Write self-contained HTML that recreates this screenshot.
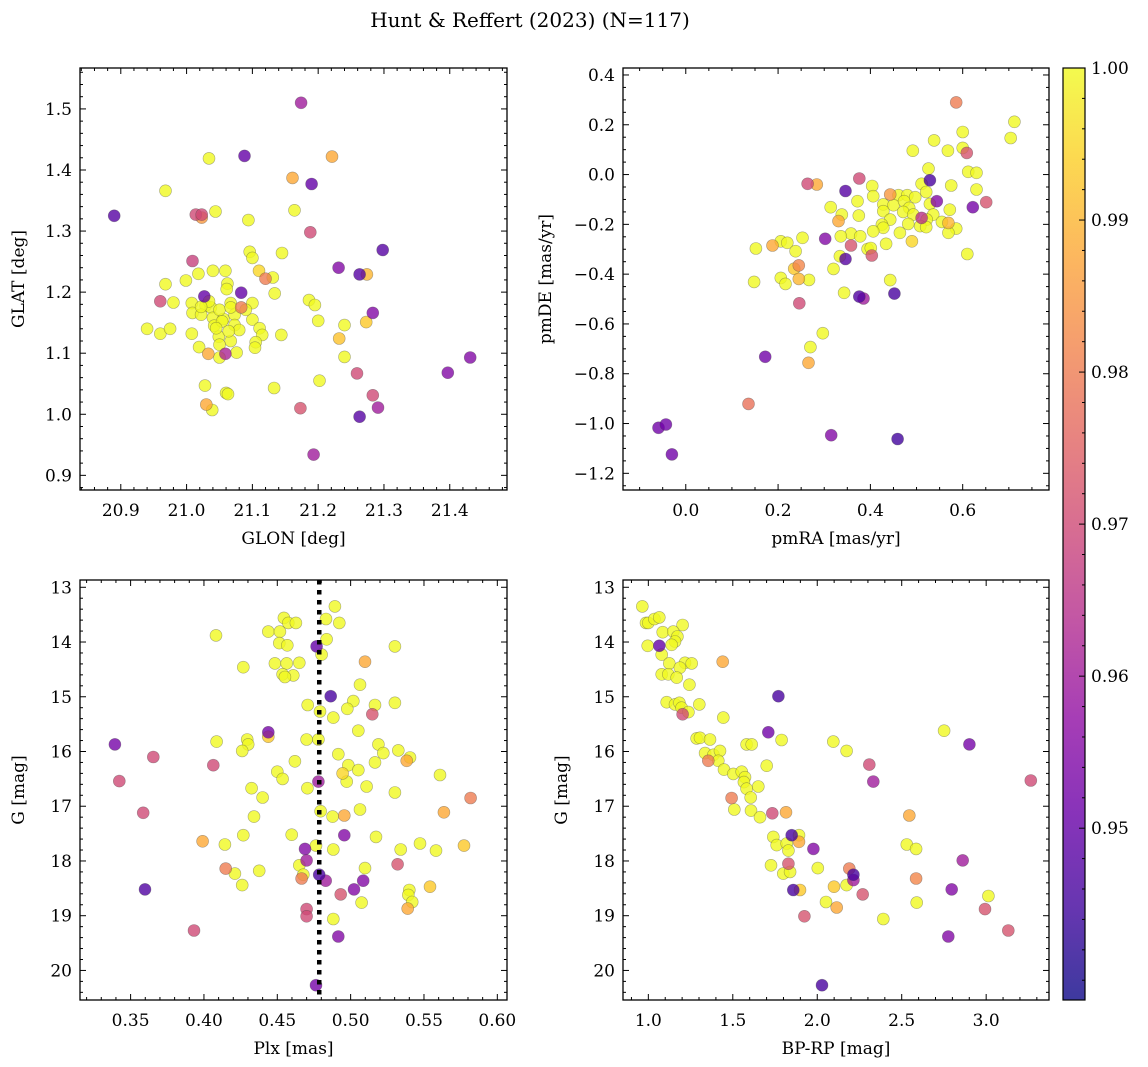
<!DOCTYPE html>
<html><head><meta charset="utf-8"><style>
html,body{margin:0;padding:0;background:#fff;}
svg{display:block;font-family:"DejaVu Serif","Liberation Serif",serif;}
</style></head><body>
<svg id="chart" width="1148" height="1067" viewBox="0 0 1148 1067" xmlns="http://www.w3.org/2000/svg">
<text x="530" y="27" font-size="20" text-anchor="middle">Hunt &amp; Reffert (2023) (N=117)</text>
</svg>
<script>
// ---------- Panel A: GLON vs GLAT ----------
const aGlon=[21.174,21.034,21.088,21.221,21.161,21.190,20.968,20.890,21.014,21.023,21.023,21.044,21.094,21.164,21.188,21.298,21.096,21.100,21.145,21.009,21.231,21.263,21.274,21.110,21.120,21.131,20.968,20.999,21.018,21.040,21.059,21.062,21.061,21.134,21.027,21.083,20.960,20.980,21.008,21.029,21.037,21.067,21.083,21.100,21.009,21.022,21.040,21.056,21.073,21.050,21.042,21.073,21.100,21.111,21.115,21.080,21.186,21.195,21.200,21.283,21.273,21.240,21.232,21.240,20.940,20.960,20.975,21.008,21.144,21.049,21.067,21.105,21.104,21.019,21.050,21.033,21.059,21.050,21.076,21.431,21.397,21.259,21.202,21.028,21.060,21.063,21.133,21.283,21.030,21.039,21.173,21.291,21.263,21.193,21.034,21.054,21.067,21.090,21.045,21.064,21.022];
const aGlat=[1.510,1.419,1.423,1.422,1.387,1.377,1.366,1.325,1.327,1.327,1.322,1.332,1.318,1.334,1.298,1.269,1.266,1.256,1.264,1.251,1.240,1.229,1.229,1.235,1.222,1.224,1.213,1.219,1.230,1.235,1.235,1.214,1.205,1.198,1.193,1.199,1.185,1.183,1.182,1.178,1.175,1.182,1.175,1.182,1.166,1.163,1.158,1.156,1.163,1.171,1.145,1.146,1.155,1.141,1.130,1.138,1.187,1.179,1.153,1.166,1.151,1.146,1.124,1.094,1.140,1.132,1.140,1.132,1.130,1.127,1.120,1.118,1.109,1.110,1.114,1.099,1.099,1.093,1.101,1.093,1.068,1.067,1.055,1.047,1.035,1.033,1.043,1.031,1.016,1.007,1.010,1.011,0.996,0.934,1.185,1.152,1.175,1.171,1.141,1.136,1.176];
const aProb=[0.96,1,0.95,0.988,0.988,0.95,1,0.948,0.97,0.97,0.985,1,1,1,0.97,0.948,1,1,1,0.968,0.955,0.948,0.99,0.995,0.98,1,1,1,1,1,1,1,1,1,0.95,0.95,0.97,1,1,1,1,1,0.98,1,1,1,1,1,1,1,1,1,1,1,1,1,1,1,1,0.955,0.993,1,0.992,1,1,1,1,1,1,1,1,1,1,1,1,0.988,0.962,1,1,0.955,0.955,0.97,1,1,1,1,1,0.97,0.988,1,0.972,0.96,0.948,0.96,1,1,1,1,1,1,1];
const aXTicks=[20.9,21.0,21.1,21.2,21.3,21.4];
const aYTicks=[0.9,1.0,1.1,1.2,1.3,1.4,1.5];

// ---------- Panel B: pmRA vs pmDE ----------
const bPmra=[0.586,0.712,0.704,0.600,0.538,0.492,0.568,0.609,0.600,0.526,0.612,0.630,0.529,0.511,0.575,0.630,0.521,0.376,0.264,0.284,0.346,0.404,0.406,0.443,0.461,0.480,0.497,0.372,0.544,0.651,0.622,0.529,0.428,0.450,0.473,0.484,0.572,0.314,0.338,0.375,0.428,0.471,0.493,0.536,0.511,0.522,0.555,0.569,0.586,0.569,0.331,0.443,0.425,0.428,0.482,0.508,0.521,0.406,0.464,0.490,0.434,0.610,0.358,0.378,0.336,0.302,0.253,0.188,0.206,0.220,0.238,0.152,0.358,0.394,0.401,0.403,0.334,0.346,0.245,0.235,0.320,0.245,0.267,0.206,0.216,0.148,0.443,0.343,0.452,0.376,0.385,0.246,0.297,0.270,0.266,0.172,0.136,-0.059,-0.043,-0.030,0.315,0.459];
const bPmde=[0.290,0.212,0.147,0.171,0.137,0.096,0.096,0.087,0.107,0.024,0.011,0.007,-0.023,-0.037,-0.044,-0.060,-0.070,-0.016,-0.037,-0.040,-0.066,-0.046,-0.087,-0.080,-0.083,-0.083,-0.091,-0.107,-0.107,-0.111,-0.131,-0.118,-0.120,-0.123,-0.107,-0.134,-0.141,-0.131,-0.161,-0.165,-0.147,-0.150,-0.161,-0.161,-0.174,-0.181,-0.190,-0.194,-0.217,-0.234,-0.187,-0.181,-0.201,-0.214,-0.198,-0.207,-0.211,-0.228,-0.234,-0.268,-0.278,-0.319,-0.237,-0.248,-0.248,-0.258,-0.254,-0.285,-0.268,-0.274,-0.308,-0.297,-0.285,-0.299,-0.295,-0.325,-0.328,-0.339,-0.365,-0.378,-0.379,-0.419,-0.423,-0.415,-0.439,-0.431,-0.424,-0.475,-0.478,-0.490,-0.498,-0.517,-0.637,-0.693,-0.756,-0.732,-0.921,-1.017,-1.004,-1.124,-1.047,-1.062];
const bProb=[0.98,1,1,1,1,1,1,0.972,1,1,1,1,0.946,1,1,1,1,0.97,0.97,0.988,0.948,1,1,0.985,1,1,1,1,0.955,0.972,0.953,1,1,1,1,1,1,1,1,1,1,1,1,1,0.965,1,1,0.99,1,1,0.988,1,1,1,1,1,1,1,1,0.995,1,1,1,1,1,0.955,1,0.988,1,1,1,1,0.972,1,1,0.972,1,0.948,0.982,0.993,1,0.99,1,1,1,1,1,1,0.946,0.947,0.96,0.97,1,1,0.988,0.952,0.978,0.952,0.952,0.952,0.955,0.945];
const bXTicks=[0.0,0.2,0.4,0.6];
const bYTicks=[-1.2,-1.0,-0.8,-0.6,-0.4,-0.2,0.0,0.2,0.4];

// ---------- Panel C: Plx vs G ----------
const cPlx=[0.4893,0.4832,0.4923,0.4545,0.4575,0.4627,0.4439,0.4518,0.4082,0.4836,0.4514,0.4568,0.4768,0.5302,0.4802,0.5098,0.4484,0.4564,0.4650,0.4268,0.4536,0.4609,0.4552,0.5064,0.4864,0.4707,0.5018,0.4977,0.5166,0.5302,0.5148,0.4791,0.4882,0.5052,0.4439,0.4439,0.4086,0.4295,0.4302,0.4261,0.4700,0.4780,0.3393,0.5189,0.5223,0.5325,0.4916,0.3655,0.5382,0.5405,0.4064,0.4620,0.4984,0.5166,0.5052,0.4500,0.4536,0.4945,0.4973,0.5609,0.3423,0.4780,0.4325,0.4705,0.5109,0.5302,0.4400,0.5818,0.3586,0.5636,0.5064,0.4795,0.4877,0.4957,0.4341,0.3991,0.4143,0.4268,0.4598,0.4957,0.5173,0.4689,0.4764,0.4882,0.5341,0.5473,0.5582,0.5773,0.4700,0.4650,0.4677,0.4666,0.4786,0.4830,0.5086,0.5023,0.5098,0.5320,0.4148,0.4211,0.4377,0.4261,0.3598,0.4932,0.5075,0.5400,0.5393,0.5420,0.5389,0.5541,0.4700,0.4700,0.4882,0.3932,0.4916,0.4764];
const cG=[13.35,13.58,13.65,13.56,13.65,13.65,13.81,13.81,13.88,13.95,14.02,14.06,14.08,14.08,14.23,14.36,14.39,14.39,14.38,14.46,14.59,14.61,14.64,14.78,14.99,15.15,15.08,15.22,15.15,15.11,15.32,15.27,15.38,15.62,15.65,15.73,15.82,15.78,15.87,15.99,15.78,15.78,15.87,15.87,16.03,15.98,16.05,16.10,16.17,16.11,16.25,16.18,16.25,16.20,16.34,16.37,16.50,16.40,16.55,16.43,16.54,16.55,16.67,16.67,16.64,16.75,16.84,16.85,17.12,17.11,17.06,17.09,17.19,17.17,17.19,17.64,17.70,17.53,17.52,17.53,17.56,17.78,17.72,17.79,17.79,17.68,17.81,17.72,17.99,18.08,18.25,18.32,18.25,18.36,18.36,18.52,18.13,18.06,18.14,18.23,18.18,18.44,18.52,18.61,18.76,18.53,18.62,18.75,18.87,18.47,18.88,19.01,19.06,19.27,19.38,20.27];
const cProb=[1,1,1,1,1,1,1,1,1,1,1,1,0.95,1,1,0.988,1,1,1,1,1,1,1,1,0.946,1,1,1,1,1,0.972,1,1,1,0.953,0.993,1,1,1,1,1,1,0.953,1,1,1,1,0.97,0.988,1,0.97,1,1,1,1,1,1,0.995,1,1,0.97,0.96,1,1,1,1,1,0.98,0.97,0.988,1,1,1,0.988,1,0.988,1,1,1,0.955,1,0.955,1,1,1,1,1,0.993,0.96,1,1,0.98,0.946,0.96,0.955,0.955,1,0.972,0.98,1,1,1,0.947,0.972,1,1,1,1,0.988,0.993,0.97,0.97,1,0.97,0.955,0.953];
const cRefPlx=[0.4786];
const cXTicks=[0.35,0.40,0.45,0.50,0.55,0.60];
const gTicks=[13,14,15,16,17,18,19,20];

// ---------- Panel D: BP-RP vs G ----------
const dBprp=[0.964,0.986,1.000,1.036,1.065,1.203,1.085,1.148,1.172,1.158,1.138,0.996,1.065,1.079,1.124,1.217,1.257,1.187,1.079,1.118,1.168,1.440,1.243,1.109,1.158,1.184,1.197,1.203,1.237,1.302,1.444,1.770,1.710,1.789,1.286,1.306,1.365,1.582,1.612,2.095,2.174,2.751,2.901,1.336,1.385,1.424,1.355,1.414,1.448,1.503,1.553,1.572,1.566,1.582,1.606,1.651,1.701,2.308,2.332,3.264,1.493,1.509,1.608,1.661,1.734,1.815,2.545,1.740,1.760,1.819,1.849,1.892,1.892,1.829,1.977,2.530,2.585,2.861,1.726,1.829,1.799,1.839,2.003,2.190,2.214,2.214,1.858,1.898,2.099,2.174,2.269,2.585,2.796,3.013,2.052,2.115,2.589,1.924,2.391,2.993,2.776,3.131,2.028];
const dG=[13.35,13.65,13.65,13.58,13.55,13.69,13.82,13.81,13.90,13.99,14.05,14.07,14.07,14.23,14.39,14.38,14.39,14.47,14.59,14.59,14.65,14.36,14.78,15.10,15.14,15.11,15.20,15.32,15.28,15.14,15.38,14.99,15.65,15.79,15.76,15.75,15.78,15.87,15.87,15.82,15.99,15.62,15.87,16.03,16.06,15.99,16.17,16.17,16.33,16.41,16.37,16.47,16.56,16.68,16.84,16.64,16.26,16.24,16.55,16.53,16.85,17.06,17.08,17.20,17.13,17.11,17.17,17.56,17.71,17.68,17.53,17.53,17.65,17.81,17.78,17.70,17.78,17.99,18.08,18.05,18.23,18.20,18.13,18.14,18.25,18.35,18.53,18.53,18.47,18.44,18.61,18.32,18.52,18.64,18.75,18.85,18.76,19.01,19.06,18.88,19.38,19.27,20.27];
const dProb=[1,1,1,1,1,1,1,1,1,1,1,1,0.95,1,1,1,1,1,1,1,1,0.988,1,1,1,1,1,0.97,1,1,1,0.946,0.952,1,1,1,1,1,1,1,1,1,0.953,1,1,1,0.98,1,1,1,1,1,1,1,1,1,1,0.97,0.96,0.97,0.98,1,1,1,0.97,0.988,0.988,1,1,1,0.946,1,0.988,1,0.955,1,1,0.96,1,0.972,1,1,1,0.98,0.946,0.96,0.946,0.993,0.993,1,0.972,0.982,0.955,1,1,0.988,1,0.972,1,0.972,0.955,0.972,0.946];
const dXTicks=[1.0,1.5,2.0,2.5,3.0];

// ---------- Colorbar ----------
const cbTicks=[0.95,0.96,0.97,0.98,0.99,1.00];
const cbMin=0.9387, cbMax=1.0;

const NS='http://www.w3.org/2000/svg';
const svg=document.getElementById('chart');
function mk(tag,attrs,parent){const e=document.createElementNS(NS,tag);for(const k in attrs)e.setAttribute(k,attrs[k]);(parent||svg).appendChild(e);return e;}

const plasmaStops=['#0d0887','#41049d','#6a00a8','#8f0da4','#b12a90','#cc4778','#e16462','#f2844b','#fca636','#fcce25','#f0f921'];
function hex(h){return [parseInt(h.slice(1,3),16),parseInt(h.slice(3,5),16),parseInt(h.slice(5,7),16)];}
function plasma(t){t=Math.max(0,Math.min(1,t));const s=t*10,i=Math.min(9,Math.floor(s)),f=s-i;const a=hex(plasmaStops[i]),b=hex(plasmaStops[i+1]);return 'rgb('+a.map((v,k)=>Math.round(v+(b[k]-v)*f)).join(',')+')';}
function probColor(p){return plasma((p-cbMin)/(cbMax-cbMin));}
function fmt(v,d){const s=Math.abs(v).toFixed(d);return (v<-1e-9?'\u2212':'')+s;}

function panel(o){
  const {name,L,T,R,B,xmin,xmax,ymin,ymax,invY,xt,yt,xminor,yminor,xd,yd,xlabel,ylabel,xs,ys,ps}=o;
  const sx=v=>L+(v-xmin)/(xmax-xmin)*(R-L);
  const sy=v=>invY? T+(v-ymin)/(ymax-ymin)*(B-T) : B-(v-ymin)/(ymax-ymin)*(B-T);
  const g=mk('g',{});
  
  
  const pts=mk('g',{},g);
  
  
  const idx=ps.map((p,i)=>i).sort((a,b)=>ps[b]-ps[a]);
  idx.forEach(i=>{
    const c=mk('circle',{cx:sx(xs[i]).toFixed(1),cy:sy(ys[i]).toFixed(1),r:6,fill:probColor(ps[i]),'fill-opacity':0.8,stroke:'#444','stroke-opacity':0.45,'stroke-width':0.6},pts);
    
    
  });
  if(o.extra) o.extra(g,sx,sy);
  const fr=mk('rect',{x:L,y:T,width:R-L,height:B-T,fill:'none',stroke:'#000','stroke-width':1.3},g);
  
  
  const tk=mk('g',{stroke:'#000','stroke-width':1},g);
  const a0=Math.min(xmin,xmax);
  for(let v=Math.ceil(xmin/xminor-1e-6)*xminor; v<=xmax+1e-9; v+=xminor){
    const x=sx(v); const major=xt.some(t=>Math.abs(t-v)<xminor/10); const len=major?6:3;
    mk('line',{x1:x,y1:B,x2:x,y2:B-len},tk); mk('line',{x1:x,y1:T,x2:x,y2:T+len},tk);
  }
  for(let v=Math.ceil(ymin/yminor-1e-6)*yminor; v<=ymax+1e-9; v+=yminor){
    const y=sy(v); const major=yt.some(t=>Math.abs(t-v)<yminor/10); const len=major?6:3;
    mk('line',{x1:L,y1:y,x2:L+len,y2:y},tk); mk('line',{x1:R,y1:y,x2:R-len,y2:y},tk);
  }
  xt.forEach(v=>{const t=mk('text',{x:sx(v),y:B+26,'font-size':17,'text-anchor':'middle'},g);t.textContent=fmt(v,xd);
    });
  yt.forEach(v=>{const t=mk('text',{x:L-8,y:sy(v)+6,'font-size':17,'text-anchor':'end'},g);t.textContent=fmt(v,yd);
    });
  const xl=mk('text',{x:(L+R)/2,y:B+54,'font-size':17,'text-anchor':'middle'},g);xl.textContent=xlabel;
  
  const yx=o.ylx, yc=(T+B)/2;
  const yl=mk('text',{x:yx,y:yc,'font-size':17,'text-anchor':'middle',transform:'rotate(-90 '+yx+' '+yc+')'},g);yl.textContent=ylabel;
  
}

panel({name:'glon-glat',L:80,T:68,R:507,B:490,xmin:20.838,xmax:21.487,ymin:0.876,ymax:1.567,xt:aXTicks,yt:aYTicks,xminor:0.02,yminor:0.02,xd:1,yd:1,xlabel:'GLON [deg]',ylabel:'GLAT [deg]',ylx:24,xs:aGlon,ys:aGlat,ps:aProb});
panel({name:'proper-motion',L:623,T:68,R:1049,B:490,xmin:-0.136,xmax:0.787,ymin:-1.267,ymax:0.428,xt:bXTicks,yt:bYTicks,xminor:0.05,yminor:0.05,xd:1,yd:1,xlabel:'pmRA [mas/yr]',ylabel:'pmDE [mas/yr]',ylx:551,xs:bPmra,ys:bPmde,ps:bProb});
panel({name:'plx-g',L:80,T:580,R:507,B:1000,xmin:0.3155,xmax:0.6066,ymin:12.867,ymax:20.54,invY:true,xt:cXTicks,yt:gTicks,xminor:0.01,yminor:0.2,xd:2,yd:0,xlabel:'Plx [mas]',ylabel:'G [mag]',ylx:24,xs:cPlx,ys:cG,ps:cProb,
  extra:(g,sx,sy)=>{cRefPlx.forEach(v=>{const l=mk('line',{x1:sx(v),y1:580,x2:sx(v),y2:1000,stroke:'#000','stroke-width':4.5,'stroke-dasharray':'4.5 5.5'},g);
    });}});
panel({name:'cmd',L:623,T:580,R:1049,B:1000,xmin:0.85,xmax:3.372,ymin:12.867,ymax:20.54,invY:true,xt:dXTicks,yt:gTicks,xminor:0.1,yminor:0.2,xd:1,yd:0,xlabel:'BP-RP [mag]',ylabel:'G [mag]',ylx:567,xs:dBprp,ys:dG,ps:dProb});

// colorbar
(function(){
  const L=1063,R=1085,T=68,B=1000;
  const g=mk('g',{});
  
  
  const defs=mk('defs',{},g);
  const lg=mk('linearGradient',{id:'cbg',x1:0,y1:1,x2:0,y2:0},defs);
  for(let i=0;i<=10;i++) mk('stop',{offset:i/10,'stop-color':plasmaStops[i],'stop-opacity':0.8},lg);
  mk('rect',{x:L,y:T,width:R-L,height:B-T,fill:'url(#cbg)',stroke:'#000','stroke-width':1.2},g);
  const sy=v=>B-(v-cbMin)/(cbMax-cbMin)*(B-T);
  for(let k=0;k<=40;k++){const v=0.94+k*0.0015; }
  for(let v=0.94; v<=1.00001; v+=0.002){ if(v<cbMin) continue; const y=sy(v); const major=cbTicks.some(t=>Math.abs(t-v)<0.0005);
    mk('line',{x1:R,y1:y,x2:R-(major?6:3),y2:y,stroke:'#000','stroke-width':1},g);}
  cbTicks.forEach(v=>{const t=mk('text',{x:R+6,y:sy(v)+6,'font-size':17},g);t.textContent=v.toFixed(2);
    });
})();
</script>
</body></html>
